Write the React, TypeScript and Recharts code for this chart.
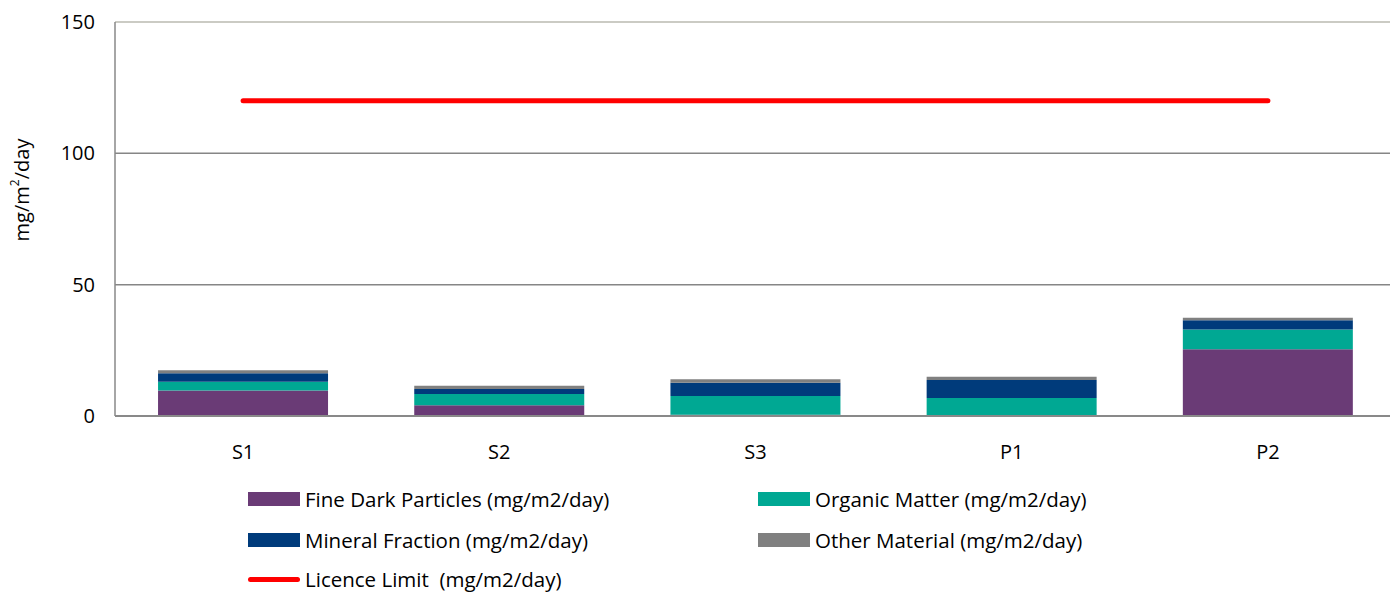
import React from 'react';
import { ComposedChart, Bar, Line, XAxis, YAxis, CartesianGrid, Legend, ReferenceLine } from 'recharts';

const sites = ['S1', 'S2', 'S3', 'P1', 'P2'];
const fineDark = [9.7, 4.1, 0.5, 0, 25.4];
const organic = [3.3, 4.3, 7.1, 6.9, 7.5];
const mineral = [3.3, 1.9, 5.1, 6.8, 3.6];
const other = [1.1, 1.2, 1.3, 1.2, 0.9];
const licenceLimit = [120, 120, 120, 120, 120];
const yTicks = [0, 50, 100, 150];

const data = sites.map((site, i) => ({
  site,
  fineDark: fineDark[i],
  organic: organic[i],
  mineral: mineral[i],
  other: other[i],
  limit: licenceLimit[i],
}));

const FONT = "'Open Sans', sans-serif";

const legendSlots: Record<string, { left: number; top: number }> = {
  fineDark: { left: 248, top: 17 },
  organic: { left: 758, top: 17 },
  mineral: { left: 248, top: 58 },
  other: { left: 758, top: 58 },
  limit: { left: 248, top: 97 },
};

const ChartLegend = (props: any) => {
  const { payload } = props;
  return (
    <div style={{ position: 'relative', width: 1390, height: 110, fontFamily: FONT, fontSize: 20.5, color: '#000' }}>
      {(payload || []).map((entry: any) => {
        const slot = legendSlots[entry.dataKey];
        if (!slot) return null;
        const isLine = entry.dataKey === 'limit';
        return (
          <div
            key={entry.dataKey}
            style={{ position: 'absolute', left: slot.left, top: slot.top, transform: 'translateY(-50%)', display: 'flex', alignItems: 'center', whiteSpace: 'pre' }}
          >
            <span
              style={{
                display: 'inline-block',
                width: 52,
                height: isLine ? 5 : 14,
                borderRadius: isLine ? 3 : 0,
                background: entry.color,
                marginRight: 5,
              }}
            />
            <span>{entry.value}</span>
          </div>
        );
      })}
    </div>
  );
};

const YLabel = (props: any) => {
  const { viewBox } = props;
  const cx = 21;
  const cy = viewBox.y + viewBox.height / 2 - 29;
  return (
    <text x={cx} y={cy} transform={`rotate(-90, ${cx}, ${cy})`} textAnchor="middle" dominantBaseline="central" fontFamily={FONT} fontSize={20} fill="#000">
      mg/m<tspan dy={-7} fontSize={12}>2</tspan><tspan dy={7}>/day</tspan>
    </text>
  );
};

export default function App() {
  return (
    <div style={{ position: 'absolute', left: 0, top: 0, background: '#fff' }}>
      <ComposedChart width={1390} height={592} data={data} margin={{ top: 22, right: -6, left: 0, bottom: 0 }} barCategoryGap="16.8%">
        <CartesianGrid vertical={false} stroke="#868686" strokeWidth={1.5} />
        <XAxis
          dataKey="site"
          height={66}
          axisLine={{ stroke: '#898989', strokeWidth: 2 }}
          tickLine={false}
          tickSize={0}
          tickMargin={29}
          tick={{ fontFamily: FONT, fontSize: 20, fill: '#000' }}
        />
        <YAxis
          width={115}
          domain={[0, 150]}
          ticks={yTicks}
          axisLine={{ stroke: '#898989', strokeWidth: 1.5 }}
          tickLine={false}
          tickSize={0}
          tickMargin={20}
          tick={{ fontFamily: FONT, fontSize: 20, fill: '#000' }}
          label={<YLabel />}
        />
        <ReferenceLine y={150} stroke="#d9d9cf" strokeWidth={1.5} />
        <Bar dataKey="fineDark" name="Fine Dark Particles (mg/m2/day)" stackId="a" fill="#6a3b76" isAnimationActive={false} />
        <Bar dataKey="organic" name="Organic Matter (mg/m2/day)" stackId="a" fill="#00a893" isAnimationActive={false} />
        <Bar dataKey="mineral" name="Mineral Fraction (mg/m2/day)" stackId="a" fill="#003b7b" isAnimationActive={false} />
        <Bar dataKey="other" name="Other Material (mg/m2/day)" stackId="a" fill="#808080" isAnimationActive={false} />
        <Line dataKey="limit" name="Licence Limit  (mg/m2/day)" type="linear" stroke="#ff0000" strokeWidth={5} strokeLinecap="round" dot={false} isAnimationActive={false} />
        <Legend verticalAlign="bottom" height={110} content={<ChartLegend />} />
      </ComposedChart>
    </div>
  );
}
